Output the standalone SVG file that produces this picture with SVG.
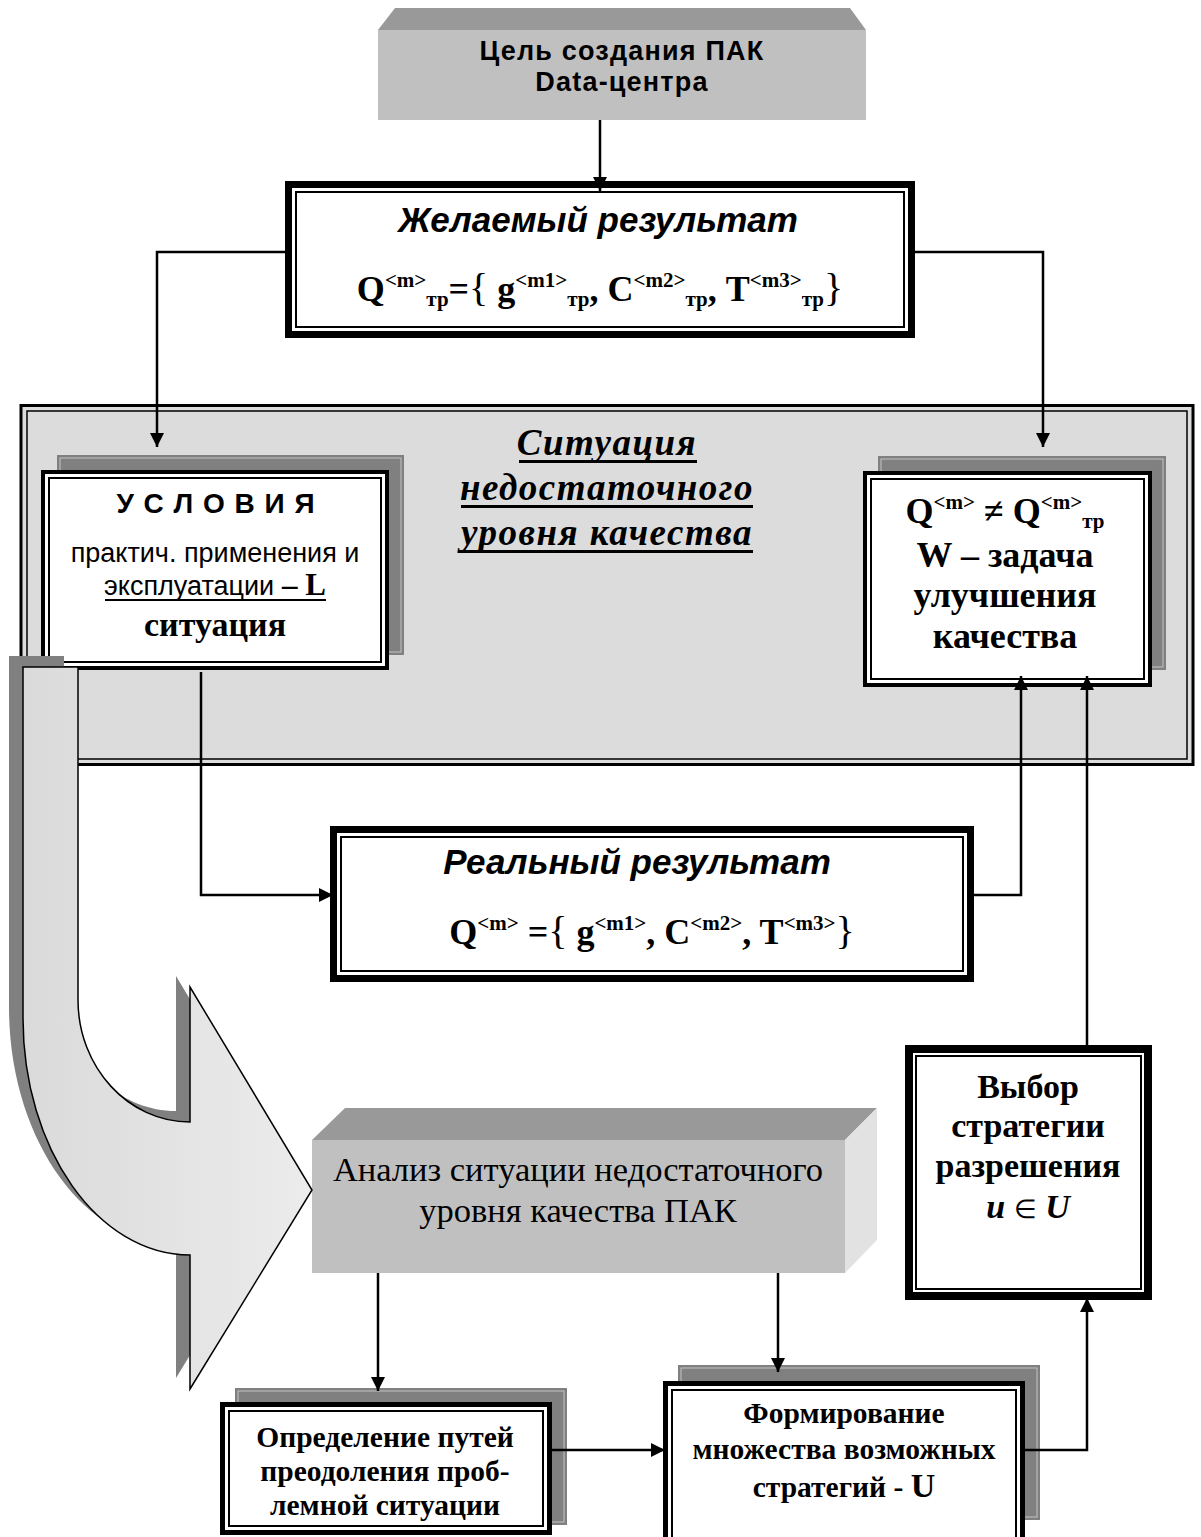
<svg xmlns="http://www.w3.org/2000/svg" width="1201" height="1537" viewBox="0 0 1201 1537">
  <defs>
    <style>
      .sans { font-family: "Liberation Sans", Arial, sans-serif; fill: #000; }
      .serif { font-family: "Liberation Serif", "Times New Roman", serif; fill: #000; }
      .b { font-weight: bold; }
      .i { font-style: italic; }
      .mid { text-anchor: middle; }
      .box { fill: #fff; stroke: #000; }
      .inner { fill: none; stroke: #000; stroke-width: 2; }
      .shadow { fill: #808080; }
      .bevel { fill: none; stroke: #c4c4c4; stroke-width: 1; }
      .link { fill: none; stroke: #000; stroke-width: 2.5; }
      .sup { font-size: 21px; }
      .sub { font-size: 21px; }
      .brace { font-weight: normal; font-size: 40px; }
    </style>
    <marker id="arrow" viewBox="0 0 14 14" refX="14" refY="7" markerWidth="14" markerHeight="14" markerUnits="userSpaceOnUse" orient="auto">
      <path d="M0,0 L14,7 L0,14 Z" fill="#000"/>
    </marker>
    <linearGradient id="bigArrowFill" x1="0" y1="0" x2="1" y2="0">
      <stop offset="0" stop-color="#dadada"/>
      <stop offset="1" stop-color="#ececec"/>
    </linearGradient>
  </defs>

  <rect width="1201" height="1537" fill="#fff"/>

  <!-- Goal: 3D block -->
  <g id="goal">
    <polygon points="395,8 850,8 866,30 378,30" fill="#999999"/>
    <rect x="378" y="30" width="488" height="90" fill="#c0c0c0"/>
    <text class="sans b mid" x="622" y="60" font-size="27" letter-spacing="1.2">Цель создания ПАК</text>
    <text class="sans b mid" x="622" y="91" font-size="27" letter-spacing="1.2">Data-центра</text>
  </g>

  <!-- Situation panel -->
  <g id="situation">
    <rect x="21" y="405.5" width="1172" height="359" fill="#dcdcdc" stroke="#000" stroke-width="3"/>
    <rect x="27" y="411" width="1160" height="348" fill="none" stroke="#000" stroke-width="1.5"/>
    <g class="serif b i mid" font-size="37" letter-spacing="1.5">
      <text x="607" y="455">Ситуация</text>
      <text x="607" y="500">недостаточного</text>
      <text x="607" y="545">уровня качества</text>
    </g>
    <rect x="519" y="460" width="178" height="3"/>
    <rect x="461" y="505" width="292" height="3"/>
    <rect x="459" y="550" width="294" height="3"/>
  </g>

  <!-- Desired result -->
  <g id="desired">
    <rect class="box" x="288.5" y="184.5" width="623" height="150" stroke-width="7"/>
    <rect class="inner" x="296" y="192" width="608" height="135"/>
    <text class="sans b i mid" x="598" y="232" font-size="35">Желаемый результат</text>
    <text class="serif b mid" x="600" y="301" font-size="36">Q<tspan class="sup" dy="-14">&lt;m&gt;</tspan><tspan class="sub" dy="19">тр</tspan><tspan dy="-5">=</tspan><tspan class="brace">{</tspan> g<tspan class="sup" dy="-14">&lt;m1&gt;</tspan><tspan class="sub" dy="19">тр</tspan><tspan dy="-5">, C</tspan><tspan class="sup" dy="-14">&lt;m2&gt;</tspan><tspan class="sub" dy="19">тр</tspan><tspan dy="-5">, T</tspan><tspan class="sup" dy="-14">&lt;m3&gt;</tspan><tspan class="sub" dy="19">тр</tspan><tspan class="brace" dy="-5">}</tspan></text>
  </g>

  <!-- Conditions -->
  <g id="conditions">
    <rect class="shadow" x="57" y="455" width="347" height="200"/>
    <rect class="bevel" x="60" y="458" width="341" height="194"/>
    <rect class="box" x="43" y="472" width="344" height="196" stroke-width="4"/>
    <rect class="inner" x="49" y="478" width="332" height="184"/>
    <text class="sans b mid" x="216" y="513" font-size="28" letter-spacing="1">У С Л О В И Я</text>
    <text class="sans mid" x="215" y="562" font-size="27">практич. применения и</text>
    <text class="sans mid" x="215" y="595" font-size="27">эксплуатации<tspan class="serif b" font-size="31"> – L</tspan></text>
    <rect x="105" y="599" width="221" height="2"/>
    <text class="serif b mid" x="215" y="636" font-size="34">ситуация</text>
  </g>

  <!-- Quality gap / improvement task -->
  <g id="task">
    <rect class="shadow" x="878" y="456" width="288" height="214"/>
    <rect class="bevel" x="881" y="459" width="282" height="208"/>
    <rect class="box" x="865" y="473" width="285" height="212" stroke-width="4"/>
    <rect class="inner" x="871" y="479" width="273" height="200"/>
    <text class="serif b mid" x="1005" y="523" font-size="36">Q<tspan class="sup" dy="-14">&lt;m&gt;</tspan><tspan dy="14">  ≠ Q</tspan><tspan class="sup" dy="-14">&lt;m&gt;</tspan><tspan class="sub" dy="19">тр</tspan></text>
    <text class="serif b mid" x="1005" y="567" font-size="36">W – задача</text>
    <text class="serif b mid" x="1005" y="607" font-size="36">улучшения</text>
    <text class="serif b mid" x="1005" y="648" font-size="36">качества</text>
  </g>

  <!-- Real result -->
  <g id="real">
    <rect class="box" x="333.5" y="829.5" width="637" height="149" stroke-width="7"/>
    <rect class="inner" x="341" y="837" width="622" height="134"/>
    <text class="sans b i mid" x="637" y="874" font-size="35">Реальный результат</text>
    <text class="serif b mid" x="652" y="944" font-size="36">Q<tspan class="sup" dy="-14">&lt;m&gt;</tspan><tspan dy="14"> =</tspan><tspan class="brace">{</tspan> g<tspan class="sup" dy="-14">&lt;m1&gt;</tspan><tspan dy="14">, C</tspan><tspan class="sup" dy="-14">&lt;m2&gt;</tspan><tspan dy="14">, T</tspan><tspan class="sup" dy="-14">&lt;m3&gt;</tspan><tspan class="brace" dy="14">}</tspan></text>
  </g>

  <!-- Strategy choice -->
  <g id="choice">
    <rect class="box" x="909" y="1049" width="239" height="247" stroke-width="8"/>
    <rect class="inner" x="916" y="1056" width="225" height="233"/>
    <text class="serif b mid" x="1028" y="1098" font-size="34">Выбор</text>
    <text class="serif b mid" x="1028" y="1137" font-size="34">стратегии</text>
    <text class="serif b mid" x="1028" y="1177" font-size="34">разрешения</text>
    <text class="serif b i mid" x="1028" y="1218" font-size="34">u <tspan font-weight="normal" font-style="normal" font-size="26">∈</tspan> U</text>
  </g>

  <!-- Analysis: 3D block -->
  <g id="analysis">
    <polygon points="345,1108 877,1108 845,1140 312,1140" fill="#999999"/>
    <polygon points="845,1140 877,1108 877,1240 845,1273" fill="#e2e2e2"/>
    <rect x="312" y="1140" width="533" height="133" fill="#c0c0c0"/>
    <text class="serif mid" x="578" y="1181" font-size="34.5">Анализ ситуации недостаточного</text>
    <text class="serif mid" x="578" y="1222" font-size="34.5">уровня качества ПАК</text>
  </g>

  <!-- Ways to overcome -->
  <g id="ways">
    <rect class="shadow" x="235" y="1388" width="332" height="137"/>
    <rect class="bevel" x="238" y="1391" width="326" height="131"/>
    <rect class="box" x="222.5" y="1404.5" width="327" height="128" stroke-width="5"/>
    <rect class="inner" x="229" y="1411" width="314" height="115"/>
    <text class="serif b mid" x="385" y="1447" font-size="29.5">Определение путей</text>
    <text class="serif b mid" x="385" y="1481" font-size="29.5">преодоления проб-</text>
    <text class="serif b mid" x="385" y="1515" font-size="29.5">лемной ситуации</text>
  </g>

  <!-- Strategy set -->
  <g id="strategies">
    <rect class="shadow" x="678" y="1365" width="362" height="155"/>
    <rect class="bevel" x="681" y="1368" width="356" height="149"/>
    <rect class="box" x="665.5" y="1383.5" width="357" height="160" stroke-width="5"/>
    <rect class="inner" x="672" y="1390" width="344" height="150"/>
    <text class="serif b mid" x="844" y="1423" font-size="29.5">Формирование</text>
    <text class="serif b mid" x="844" y="1459" font-size="29.5">множества возможных</text>
    <text class="serif b mid" x="844" y="1497" font-size="29.5">стратегий - <tspan font-size="34">U</tspan></text>
  </g>

  <!-- Connectors -->
  <g id="connectors">
    <path class="link" d="M600,120 V191" marker-end="url(#arrow)"/>
    <path class="link" d="M285,252 H157 V447" marker-end="url(#arrow)"/>
    <path class="link" d="M915,252 H1043 V447" marker-end="url(#arrow)"/>
    <path class="link" d="M201,672 V895 H333" marker-end="url(#arrow)"/>
    <path class="link" d="M973,895 H1021 V676" marker-end="url(#arrow)"/>
    <path class="link" d="M1087,1048 V676" marker-end="url(#arrow)"/>
    <path class="link" d="M378,1273 V1391" marker-end="url(#arrow)"/>
    <path class="link" d="M778,1273 V1372" marker-end="url(#arrow)"/>
    <path class="link" d="M552,1450 H665" marker-end="url(#arrow)"/>
    <path class="link" d="M1025,1450 H1087 V1298" marker-end="url(#arrow)"/>
  </g>

  <!-- Big curved arrow toward the analysis -->
  <g id="flow-arrow">
    <path transform="translate(-14,-11)" fill="#808080" d="M23,667 L78,667 L78,1000 C78,1067 128,1122 190,1122 L190,987 L312,1190 L190,1389 L190,1255 C98,1255 23,1149 23,1018 Z"/>
    <path fill="url(#bigArrowFill)" stroke="#000" stroke-width="1.5" d="M23,667 L78,667 L78,1000 C78,1067 128,1122 190,1122 L190,987 L312,1190 L190,1389 L190,1255 C98,1255 23,1149 23,1018 Z"/>
  </g>
</svg>
